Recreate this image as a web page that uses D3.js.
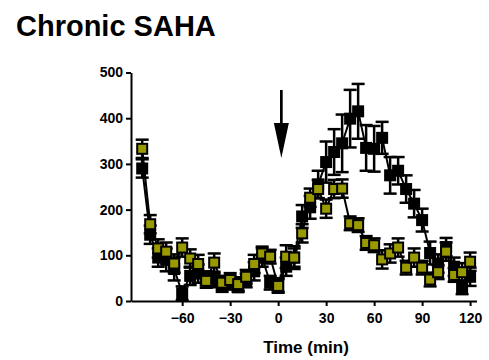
<!DOCTYPE html>
<html>
<head>
<meta charset="utf-8">
<script src="https://cdn.jsdelivr.net/npm/d3@7"></script>
<style>
  html, body { margin: 0; padding: 0; background: #fff; }
  svg { display: block; }
  text { font-family: "Liberation Sans", Arial, sans-serif; font-weight: bold; fill: #000; }
</style>
</head>
<body>
<svg id="chart" width="489" height="360"></svg>
<script>
// ---- data ----
const times = [-85,-80,-75,-70,-65,-60,-55,-50,-45,-40,-35,-30,-25,-20,-15,-10,-5,0,5,10,
  15,20,25,30,35,40,45,50,55,60,65,70,75,80,85,90,95,100,105,110,115,120];
const blackMean = [290,145,95,90,70,17,55,60,50,45,35,40,30,45,65,95,40,35,75,95,
  185,205,255,304,326,345,399,415,335,333,357,275,285,245,213,177,105,82,118,75,30,53];
const blackErr = [20,20,20,25,25,15,20,20,15,15,15,15,10,15,20,20,15,15,20,25,
  25,25,30,45,50,63,63,60,50,50,35,40,30,30,30,25,25,20,20,20,15,20];
const oliveMean = [333,168,115,108,82,117,93,81,44,84,40,46,37,53,81,104,97,33,97,95,
  148,226,245,202,245,246,170,166,127,122,91,104,117,73,95,73,47,63,108,57,63,86];
const oliveErr = [20,20,20,20,20,20,20,20,15,20,15,15,15,15,20,15,15,15,25,20,
  20,20,20,20,20,20,15,15,15,15,20,20,20,15,20,15,15,15,20,15,20,20];
const xTicks = [-60,-30,0,30,60,90,120];
const yTicks = [0,100,200,300,400,500];
const arrowTime = 2;
const title = "Chronic SAHA";
const xLabel = "Time (min)";

// ---- chart ----
const svg = d3.select("#chart");
const x = d3.scaleLinear().domain([-92, 124]).range([131, 476.5]);
const y = d3.scaleLinear().domain([0, 500]).range([301, 72.5]);

svg.append("text").attr("x", 16).attr("y", 36).attr("font-size", 29).text(title);

// axes
const yAxis = svg.append("g").attr("transform", `translate(${x(-92)},0)`)
  .call(d3.axisLeft(y).tickValues(yTicks).tickSize(5).tickPadding(3).tickSizeOuter(0));
const xAxis = svg.append("g").attr("transform", `translate(0,${y(0)})`)
  .call(d3.axisBottom(x).tickValues(xTicks).tickSize(5).tickPadding(7).tickSizeOuter(0));
[xAxis, yAxis].forEach(a => {
  a.selectAll("path, line").attr("stroke", "#000").attr("stroke-width", 2);
  a.selectAll("text").attr("font-size", 14).attr("font-family", '"Liberation Sans", Arial, sans-serif').attr("font-weight", "bold").attr("fill", "#000");
});

svg.append("text").attr("x", 306).attr("y", 353).attr("text-anchor", "middle")
  .attr("font-size", 17).text(xLabel);

function drawSeries(means, errs, fill) {
  const data = times.map((t, i) => ({t, v: means[i], e: errs[i]}));
  const g = svg.append("g");
  const eb = g.selectAll("g.eb").data(data).enter().append("g");
  eb.append("line").attr("x1", d => x(d.t)).attr("x2", d => x(d.t))
    .attr("y1", d => y(Math.max(0, d.v - d.e))).attr("y2", d => y(d.v + d.e))
    .attr("stroke", "#000").attr("stroke-width", 2.5);
  eb.append("line").attr("x1", d => x(d.t) - 6.5).attr("x2", d => x(d.t) + 6.5)
    .attr("y1", d => y(d.v + d.e)).attr("y2", d => y(d.v + d.e))
    .attr("stroke", "#000").attr("stroke-width", 2.5);
  eb.append("line").attr("x1", d => x(d.t) - 6.5).attr("x2", d => x(d.t) + 6.5)
    .attr("y1", d => y(Math.max(0, d.v - d.e))).attr("y2", d => y(Math.max(0, d.v - d.e)))
    .attr("stroke", "#000").attr("stroke-width", 2.5);
  g.append("path").datum(data)
    .attr("d", d3.line().x(d => x(d.t)).y(d => y(d.v)))
    .attr("fill", "none").attr("stroke", "#000").attr("stroke-width", 2);
  g.selectAll("rect").data(data).enter().append("rect")
    .attr("x", d => x(d.t) - 5).attr("y", d => y(d.v) - 5)
    .attr("width", 10).attr("height", 10)
    .attr("fill", fill).attr("stroke", "#000").attr("stroke-width", 2);
}
drawSeries(blackMean, blackErr, "#000");
drawSeries(oliveMean, oliveErr, "#999900");

// arrow
const ax = x(arrowTime);
svg.append("line").attr("x1", ax).attr("x2", ax).attr("y1", 90).attr("y2", 128)
  .attr("stroke", "#000").attr("stroke-width", 2.7);
svg.append("path").attr("d", `M${ax - 7.5},123 L${ax + 7.5},123 L${ax},158 Z`).attr("fill", "#000");
</script>
</body>
</html>
